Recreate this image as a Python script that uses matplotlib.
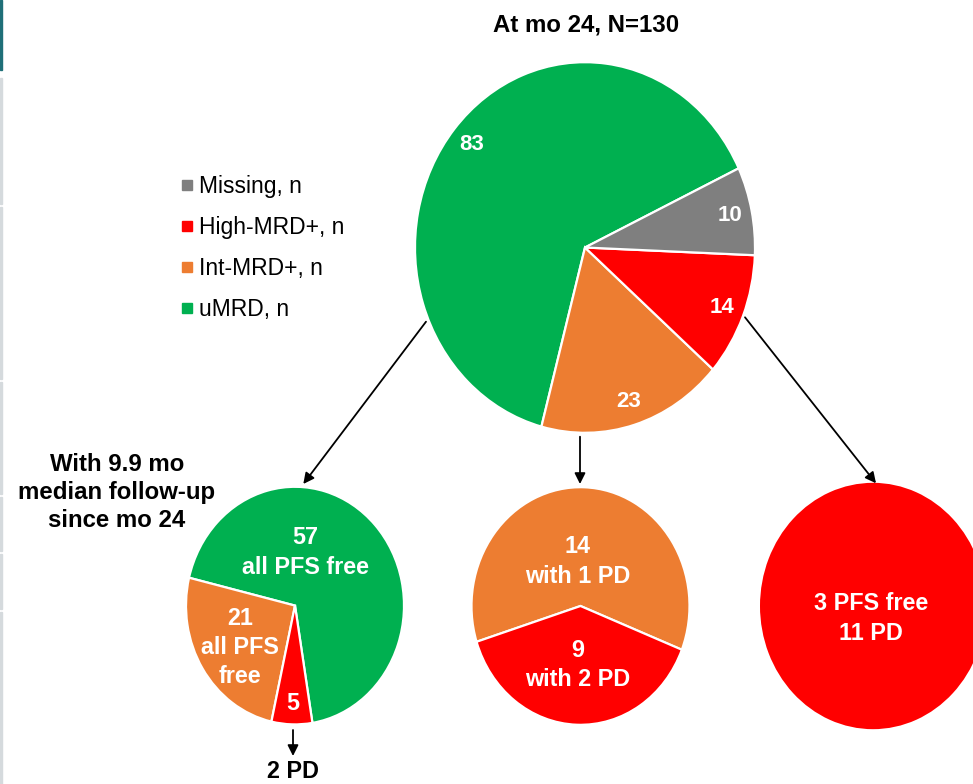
import matplotlib
matplotlib.use("Agg")
import matplotlib.pyplot as plt
from matplotlib.lines import Line2D
from matplotlib.patches import Rectangle

plt.rcParams["font.family"] = ["Liberation Sans", "DejaVu Sans"]

# MRD status at month 24 (N=130)
status_labels = ["uMRD, n", "Int-MRD+, n", "High-MRD+, n", "Missing, n"]
status_values = [83, 23, 14, 10]

# Outcomes after month 24, by MRD group
umrd_values = [57, 21, 5]          # uMRD -> stayed uMRD, became Int-MRD+, became High-MRD+
umrd_pd_from_high = 2
int_values = [14, 9]               # Int-MRD+ -> with 1 PD / with 2 PD
high_pfs_free = 3
high_pd = 11

GREEN = "#00B050"
ORANGE = "#ED7D31"
RED = "#FF0000"
GRAY = "#7F7F7F"
status_colors = [GREEN, ORANGE, RED, GRAY]

W, H = 973, 784
S = 1.09  # vertical stretch of the slide


def P(x, y):
    """Pixel position (top-left origin) -> data coordinates."""
    return x, (H - y) / S


fig = plt.figure(figsize=(W / 100, H / 100), dpi=100)
ax = fig.add_axes([0, 0, 1, 1])

wedge_kw = dict(edgecolor="white", linewidth=1.6)
lbl_kw = dict(color="white", fontweight="bold", ha="center", va="center")
LS = 1.36

# Main pie: status at month 24
total = sum(status_values)
ax.pie(status_values, colors=status_colors, startangle=25.3, radius=170,
       center=P(585, 247.5), wedgeprops=wedge_kw,
       autopct=lambda p: f"{round(p * total / 100)}", pctdistance=0.87,
       textprops=dict(color="white", fontweight="bold", fontsize=16))

# uMRD follow-up pie
ax.pie(umrd_values, colors=[GREEN, ORANGE, RED], startangle=-80.8, radius=109,
       center=P(295, 605.6), wedgeprops=wedge_kw)
ax.text(*P(305, 552.5), f"{umrd_values[0]}\nall PFS free", fontsize=16.8,
        linespacing=LS, **lbl_kw)
ax.text(*P(240, 647.5), f"{umrd_values[1]}\nall PFS\nfree", fontsize=16.8,
        linespacing=LS, **lbl_kw)
ax.text(*P(293, 704), f"{umrd_values[2]}", fontsize=16.8, **lbl_kw)

# Int-MRD+ follow-up pie
ax.pie(int_values, colors=[ORANGE, RED], startangle=-21.6, radius=109,
       center=P(580.5, 606), wedgeprops=wedge_kw)
ax.text(*P(578, 561.5), f"{int_values[0]}\nwith 1 PD", fontsize=16.8,
        linespacing=LS, **lbl_kw)
ax.text(*P(578, 665), f"{int_values[1]}\nwith 2 PD", fontsize=16.8,
        linespacing=LS, **lbl_kw)

# High-MRD+ follow-up pie
ax.pie([high_pfs_free + high_pd], colors=[RED], startangle=90, radius=113,
       center=P(873, 606), wedgeprops=dict(edgecolor="none"))
ax.text(*P(871, 618.5), f"{high_pfs_free} PFS free\n{high_pd} PD",
        fontsize=16.8, linespacing=LS, **lbl_kw)

# Connecting arrows
arrow_kw = dict(arrowstyle="-|>", color="black", lw=1.3, mutation_scale=16,
                shrinkA=0, shrinkB=0)
for (x0, y0), (x1, y1) in [((426, 321.7), (303.3, 484)),
                           ((580, 436.7), (580, 484)),
                           ((745, 317.3), (876, 483.3)),
                           ((293, 730), (293, 756))]:
    ax.annotate("", xy=P(x1, y1), xytext=P(x0, y0), arrowprops=arrow_kw)

ax.text(*P(293, 783), f"{umrd_pd_from_high} PD", fontsize=16.8,
        fontweight="bold", ha="center", va="bottom")

# Titles
ax.text(*P(586, 25), f"At mo 24, N={total}", fontsize=17.3, fontweight="bold",
        ha="center", va="center")
ax.text(*P(117, 492.5), "With 9.9 mo\nmedian follow-up\nsince mo 24",
        fontsize=17.3, fontweight="bold", ha="center", va="center",
        linespacing=1.3)

# Legend
handles = [Line2D([], [], marker="s", linestyle="none", markersize=7.5,
                  markerfacecolor=c, markeredgecolor=c)
           for c in status_colors[::-1]]
ax.legend(handles, status_labels[::-1], loc="upper left",
          bbox_to_anchor=(181 / W, 1 - 175 / H), frameon=False, fontsize=16.5,
          handlelength=0.5, handletextpad=0.3, labelspacing=0.78,
          borderpad=0, borderaxespad=0)

# Slide edge strips
fig.patches.append(Rectangle((0, 1 - 70 / H), 2 / W, 70 / H,
                             transform=fig.transFigure, color="#1F6F78"))
for y0, y1 in [(78, 204), (207, 379), (382, 494), (497, 551), (554, 609), (612, 784)]:
    fig.patches.append(Rectangle((0, 1 - y1 / H), 2 / W, (y1 - y0) / H,
                                 transform=fig.transFigure, color="#D5DADD"))

ax.set_xlim(0, W)
ax.set_ylim(0, H / S)
ax.set_aspect("auto")
ax.set_axis_off()

fig.savefig("out.png", dpi=100)
